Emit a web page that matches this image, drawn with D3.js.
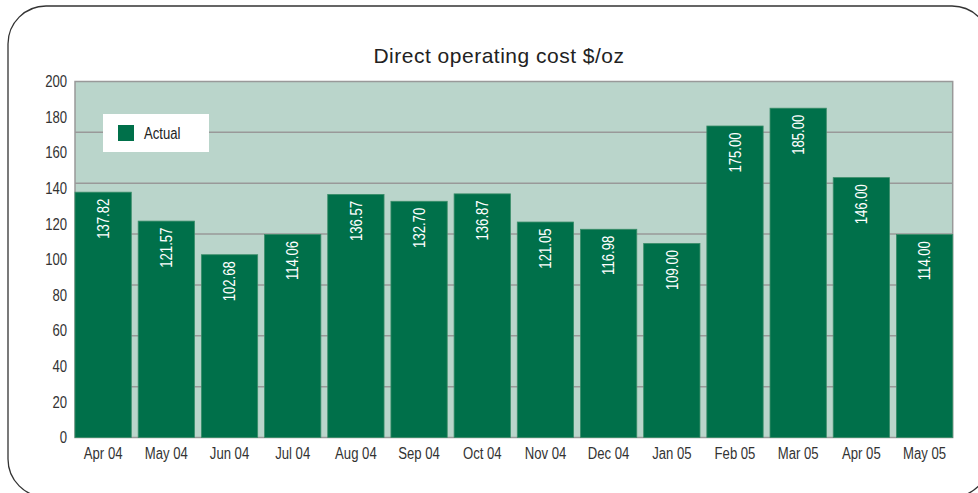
<!DOCTYPE html>
<html>
<head>
<meta charset="utf-8">
<script src="https://cdn.jsdelivr.net/npm/d3@7/dist/d3.min.js"></script>
<style>
  body { margin: 0; background: #fff; }
  svg { display: block; }
</style>
</head>
<body>
<div id="chart-area"></div>
<script>
//============================DATA============================
var months = ["Apr 04", "May 04", "Jun 04", "Jul 04", "Aug 04", "Sep 04", "Oct 04",
              "Nov 04", "Dec 04", "Jan 05", "Feb 05", "Mar 05", "Apr 05", "May 05"];
var actualCost = [137.82, 121.57, 102.68, 114.06, 136.57, 132.70, 136.87,
                  121.05, 116.98, 109.00, 175.00, 185.00, 146.00, 114.00];
var yTicks = [0, 20, 40, 60, 80, 100, 120, 140, 160, 180, 200];
var seriesName = "Actual";

//============================GLOBALS============================
var W = 978, H = 493;
var plot = { left: 75, right: 952.7, top: 81.5, bottom: 437.5 };
var gridDivisions = 7; // the background rules are not on the tick values

// no narrow face installed, so Liberation Sans is squeezed horizontally
var labelFont = "'Liberation Sans', Arial, sans-serif";
var squeeze = 0.82;
var barColor = "#00704a";

var svg = d3.select("#chart-area")
    .append("svg")
    .attr("width", W)
    .attr("height", H);

// rounded outer frame (runs off the right and bottom of the picture)
var fx0 = 8, fy0 = 6, fx1 = 990, fy1 = 497, r = 38;
svg.append("path")
    .attr("d", "M" + (fx0 + r) + "," + fy0 +
        " H" + (fx1 - r) + " A" + r + "," + r + " 0 0 1 " + fx1 + "," + (fy0 + r) +
        " V" + (fy1 - r) + " A" + r + "," + r + " 0 0 1 " + (fx1 - r) + "," + fy1 +
        " H" + (fx0 + r) + " A" + r + "," + r + " 0 0 1 " + fx0 + "," + (fy1 - r) +
        " V" + (fy0 + r) + " A" + r + "," + r + " 0 0 1 " + (fx0 + r) + "," + fy0 + " Z")
    .attr("fill", "none")
    .attr("stroke", "#333")
    .attr("stroke-width", 1.3);

// title
svg.append("text")
    .attr("x", 499)
    .attr("y", 63)
    .attr("text-anchor", "middle")
    .attr("font-family", "'Liberation Sans', Arial, sans-serif")
    .attr("font-size", "21px")
    .attr("letter-spacing", "0.5px")
    .attr("fill", "#222")
    .text("Direct operating cost $/oz");

//============================SCALES============================
var x = d3.scaleBand()
    .domain(months)
    .range([plot.left, plot.right])
    .paddingInner(0.109)
    .paddingOuter(0);

var y = d3.scaleLinear()
    .domain([0, 200])
    .range([plot.bottom, plot.top]);

// plot background
svg.append("rect")
    .attr("x", plot.left)
    .attr("y", plot.top)
    .attr("width", plot.right - plot.left)
    .attr("height", plot.bottom - plot.top)
    .attr("fill", "#bad5cb");

// grid rules
svg.append("g")
    .selectAll("line")
    .data(d3.range(1, gridDivisions))
    .enter().append("line")
    .attr("x1", plot.left)
    .attr("x2", plot.right)
    .attr("y1", function(d) { return plot.top + (plot.bottom - plot.top) * d / gridDivisions; })
    .attr("y2", function(d) { return plot.top + (plot.bottom - plot.top) * d / gridDivisions; })
    .attr("stroke", "#999")
    .attr("stroke-width", 1.5);

// plot border
svg.append("rect")
    .attr("x", plot.left)
    .attr("y", plot.top)
    .attr("width", plot.right - plot.left)
    .attr("height", plot.bottom - plot.top)
    .attr("fill", "none")
    .attr("stroke", "#999")
    .attr("stroke-width", 1.5);

//============================BARS============================
svg.append("g")
    .selectAll("rect")
    .data(actualCost)
    .enter().append("rect")
    .attr("x", function(d, i) { return x(months[i]); })
    .attr("y", function(d) { return y(d); })
    .attr("width", x.bandwidth())
    .attr("height", function(d) { return y(0) - y(d); })
    .attr("fill", barColor)
    .attr("stroke", "#3a8d69")
    .attr("stroke-width", 0.8);

// value labels, rotated inside the bars
svg.append("g")
    .selectAll("text")
    .data(actualCost)
    .enter().append("text")
    .attr("transform", function(d, i) {
        return "translate(" + (x(months[i]) + x.bandwidth() / 2) + "," + (y(d) + 6.5) +
            ") rotate(-90) scale(" + squeeze + ",1)";
    })
    .attr("dy", "0.36em")
    .attr("text-anchor", "end")
    .attr("font-family", labelFont)
    .attr("font-size", "16px")
    .attr("fill", "#fff")
    .text(function(d) { return d.toFixed(2); });

//============================AXES============================
var yAxis = svg.append("g")
    .attr("transform", "translate(" + plot.left + ",0)")
    .call(d3.axisLeft(y).tickValues(yTicks).tickSize(0).tickPadding(8));
yAxis.select(".domain").remove();
yAxis.selectAll("text")
    .attr("x", -8 / squeeze)
    .attr("transform", "scale(" + squeeze + ",1)")
    .attr("font-family", labelFont)
    .attr("font-size", "16px")
    .attr("fill", "#333");

var xAxis = svg.append("g")
    .attr("transform", "translate(0," + plot.bottom + ")")
    .call(d3.axisBottom(x).tickSize(0).tickPadding(10));
xAxis.select(".domain").remove();
xAxis.selectAll("text")
    .attr("transform", "scale(" + squeeze + ",1)")
    .attr("font-family", labelFont)
    .attr("font-size", "16px")
    .attr("fill", "#333");

//============================LEGEND============================
var legend = svg.append("g").attr("transform", "translate(103,114)");
legend.append("rect")
    .attr("width", 106)
    .attr("height", 38)
    .attr("fill", "#fff");
legend.append("rect")
    .attr("x", 15)
    .attr("y", 11)
    .attr("width", 16)
    .attr("height", 16)
    .attr("fill", barColor);
legend.append("text")
    .attr("transform", "translate(41,19) scale(" + squeeze + ",1)")
    .attr("dy", "0.36em")
    .attr("font-family", labelFont)
    .attr("font-size", "16px")
    .attr("fill", "#222")
    .text(seriesName);
</script>
</body>
</html>
